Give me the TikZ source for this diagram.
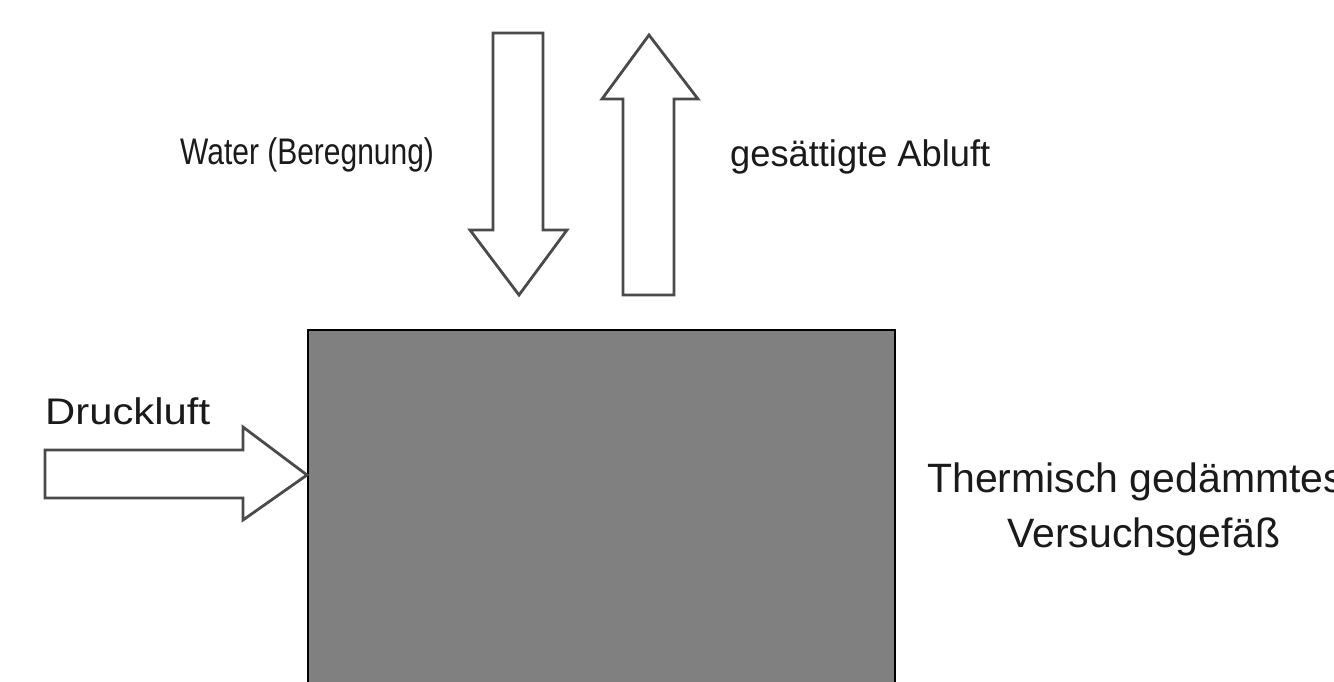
\documentclass[tikz,border=0pt]{standalone}
\usepackage{fontspec}
\setmainfont{Liberation Sans}
\definecolor{boxgray}{HTML}{808080}
\definecolor{arrowline}{HTML}{4A4A4A}
\definecolor{txt}{HTML}{1A1A1A}
\tikzset{
  blockarrow/.style={draw=arrowline, line width=2.8pt, fill=white, line join=miter},
  vessel/.style={draw=black, line width=2.2pt, fill=boxgray},
  lbl/.style={inner sep=0pt, text=txt, font=\fontsize{37}{44}\selectfont},
  biglbl/.style={inner sep=0pt, text=txt, font=\fontsize{41}{55}\selectfont}
}
\begin{document}
\begin{tikzpicture}[x=1pt,y=-1pt]
\useasboundingbox[fill=white] (0,0) rectangle (1334,681);
% vessel
\draw[vessel] (308,330) rectangle (895,690);
% arrows
\draw[blockarrow] (493,33) -- (543,33) -- (543,230) -- (567,230) -- (519,295) -- (470,230) -- (493,230) -- cycle;
\draw[blockarrow] (649,35) -- (698,99) -- (674,99) -- (674,295) -- (623,295) -- (623,99) -- (602,99) -- cycle;
\draw[blockarrow] (45,450) -- (243,450) -- (243,427) -- (307,475) -- (243,520) -- (243,498) -- (45,498) -- cycle;
% labels
\node[lbl, anchor=base west] (water) at (180,164) {\scalebox{0.81}[1]{Water (Beregnung)}};
\node[lbl, anchor=base west] (abluft) at (730,166) {\scalebox{0.98}[1]{gesättigte Abluft}};
\node[lbl, anchor=base west] (druck) at (45,424) {\scalebox{1.13}[1]{Druckluft}};
\node[biglbl, anchor=base west] (therm) at (927,492) {Thermisch gedämmtes};
\node[biglbl, anchor=base west] (vers) at (1007,547) {Versuchsgefäß};
\end{tikzpicture}
\end{document}
